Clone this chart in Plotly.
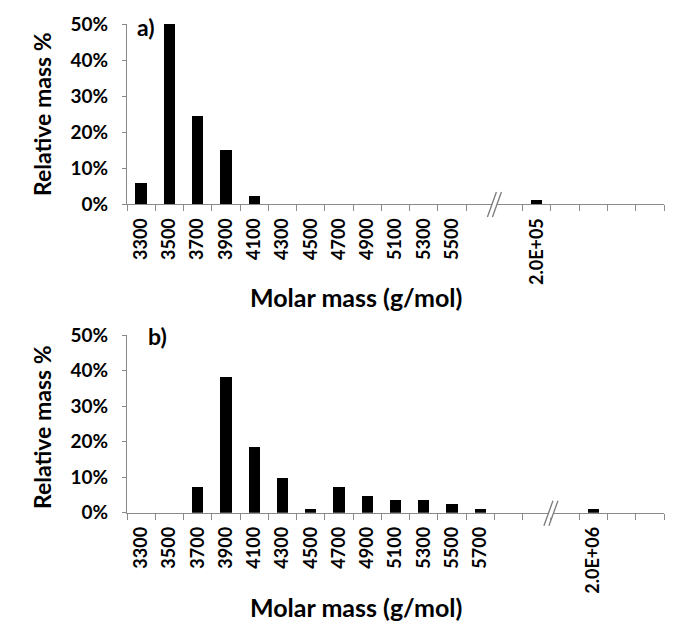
import plotly.graph_objects as go

# ---- data ----
top_labels = ["3300", "3500", "3700", "3900", "4100", "4300", "4500", "4700",
              "4900", "5100", "5300", "5500", "", "", "2.0E+05", "", "", "", ""]
top_values = [0.058, 0.50, 0.244, 0.149, 0.023, 0, 0, 0,
              0, 0, 0, 0, None, None, 0.011, None, None, None, None]

bot_labels = ["3300", "3500", "3700", "3900", "4100", "4300", "4500", "4700",
              "4900", "5100", "5300", "5500", "5700", "", "", "", "2.0E+06", "", ""]
bot_values = [0, 0, 0.073, 0.381, 0.185, 0.098, 0.011, 0.073,
              0.048, 0.036, 0.036, 0.024, 0.010, None, None, None, 0.010, None, None]

top_break = 12.5   # axis break between slots
bot_break = 14.5
panel_tags = ["a)", "b)"]
x_title = "Molar mass (g/mol)"
y_title = "Relative mass %"

# ---- layout helpers ----
W, H = 685, 644
OFF = 8  # page body margin
AX = "#8a8a8a"
FONT = "Lato"

def px_x(p):
    return (p - OFF) / W

def px_y(p):
    return 1 - (p - OFF) / H

fig = go.Figure()

panels = [
    dict(labels=top_labels, values=top_values, brk=top_break, xa="x", ya="y",
         dom_y=[px_y(204), px_y(24)], tag=panel_tags[0], tag_xy=(146, 27),
         ytitle_y=114, xtitle_y=297),
    dict(labels=bot_labels, values=bot_values, brk=bot_break, xa="x2", ya="y2",
         dom_y=[px_y(512.7), px_y(335)], tag=panel_tags[1], tag_xy=(157, 336),
         ytitle_y=427, xtitle_y=607),
]

for i, p in enumerate(panels):
    idx = list(range(len(p["labels"])))
    fig.add_trace(go.Bar(x=idx, y=p["values"], width=0.4,
                         marker=dict(color="black", line=dict(width=0)),
                         xaxis=p["xa"], yaxis=p["ya"], showlegend=False))
    tv = [k for k, l in zip(idx, p["labels"]) if l]
    tt = [l for l in p["labels"] if l]
    sfx = "" if i == 0 else "2"
    fig.update_layout(**{
        "xaxis" + sfx: dict(
            domain=[px_x(127), px_x(664)], anchor=p["ya"], automargin=False,
            range=[-0.5, len(idx) - 0.5], tickmode="array", tickvals=tv, ticktext=tt,
            tickangle=-90, ticks="", showline=True, linecolor=AX, linewidth=1,
            showgrid=False, zeroline=False, ticklabelstandoff=6,
            tickfont=dict(family=FONT, size=18, color="black", weight="bold"),
            minor=dict(tickmode="linear", tick0=-0.5, dtick=1, ticks="outside",
                       ticklen=6, tickcolor=AX, tickwidth=1, showgrid=False),
        ),
        "yaxis" + sfx: dict(
            domain=p["dom_y"], anchor=p["xa"], range=[0, 0.5], dtick=0.1,
            automargin=False,
            tickformat=".0%", ticks="outside", ticklen=4, tickcolor=AX,
            showline=True, linecolor=AX, linewidth=1, showgrid=False,
            zeroline=False, ticklabelstandoff=10,
            tickfont=dict(family=FONT, size=19, color="black", weight="bold"),
        ),
    })
    # axis break marks, anchored at the break boundary on the x axis line
    xr = p["xa"]
    y_axis_line = p["dom_y"][0]
    fig.add_shape(type="path", xref=xr, yref="paper", xsizemode="pixel", ysizemode="pixel",
                  xanchor=p["brk"], yanchor=y_axis_line,
                  path="M -7,13 L 2,-12 L 7,-12 L -2,13 Z",
                  fillcolor="white", line=dict(width=0))
    for off in (-2.5, 2.5):
        fig.add_shape(type="line", xref=xr, yref="paper", xsizemode="pixel", ysizemode="pixel",
                      xanchor=p["brk"], yanchor=y_axis_line,
                      x0=-4.5 + off, y0=-13, x1=4.5 + off, y1=12,
                      line=dict(color="#7a7a7a", width=1.3))
    # panel tag
    fig.add_annotation(text=p["tag"], xref="paper", yref="paper",
                       x=px_x(p["tag_xy"][0]), y=px_y(p["tag_xy"][1]),
                       showarrow=False, xanchor="center", yanchor="middle",
                       font=dict(family=FONT, size=23, color="black", weight="bold"))
    # axis titles
    fig.add_annotation(text=y_title, xref="paper", yref="paper",
                       x=px_x(42), y=px_y(p["ytitle_y"]), textangle=-90,
                       showarrow=False, xanchor="center", yanchor="middle",
                       font=dict(family=FONT, size=23, color="black", weight="bold"))
    fig.add_annotation(text=x_title, xref="paper", yref="paper",
                       x=px_x(356), y=px_y(p["xtitle_y"]),
                       showarrow=False, xanchor="center", yanchor="middle",
                       font=dict(family=FONT, size=25, color="black", weight="bold"))

fig.update_layout(width=W, height=H, margin=dict(l=0, r=0, t=0, b=0, autoexpand=False),
                  plot_bgcolor="white", paper_bgcolor="white", bargap=0)

fig.write_html("out.html")
